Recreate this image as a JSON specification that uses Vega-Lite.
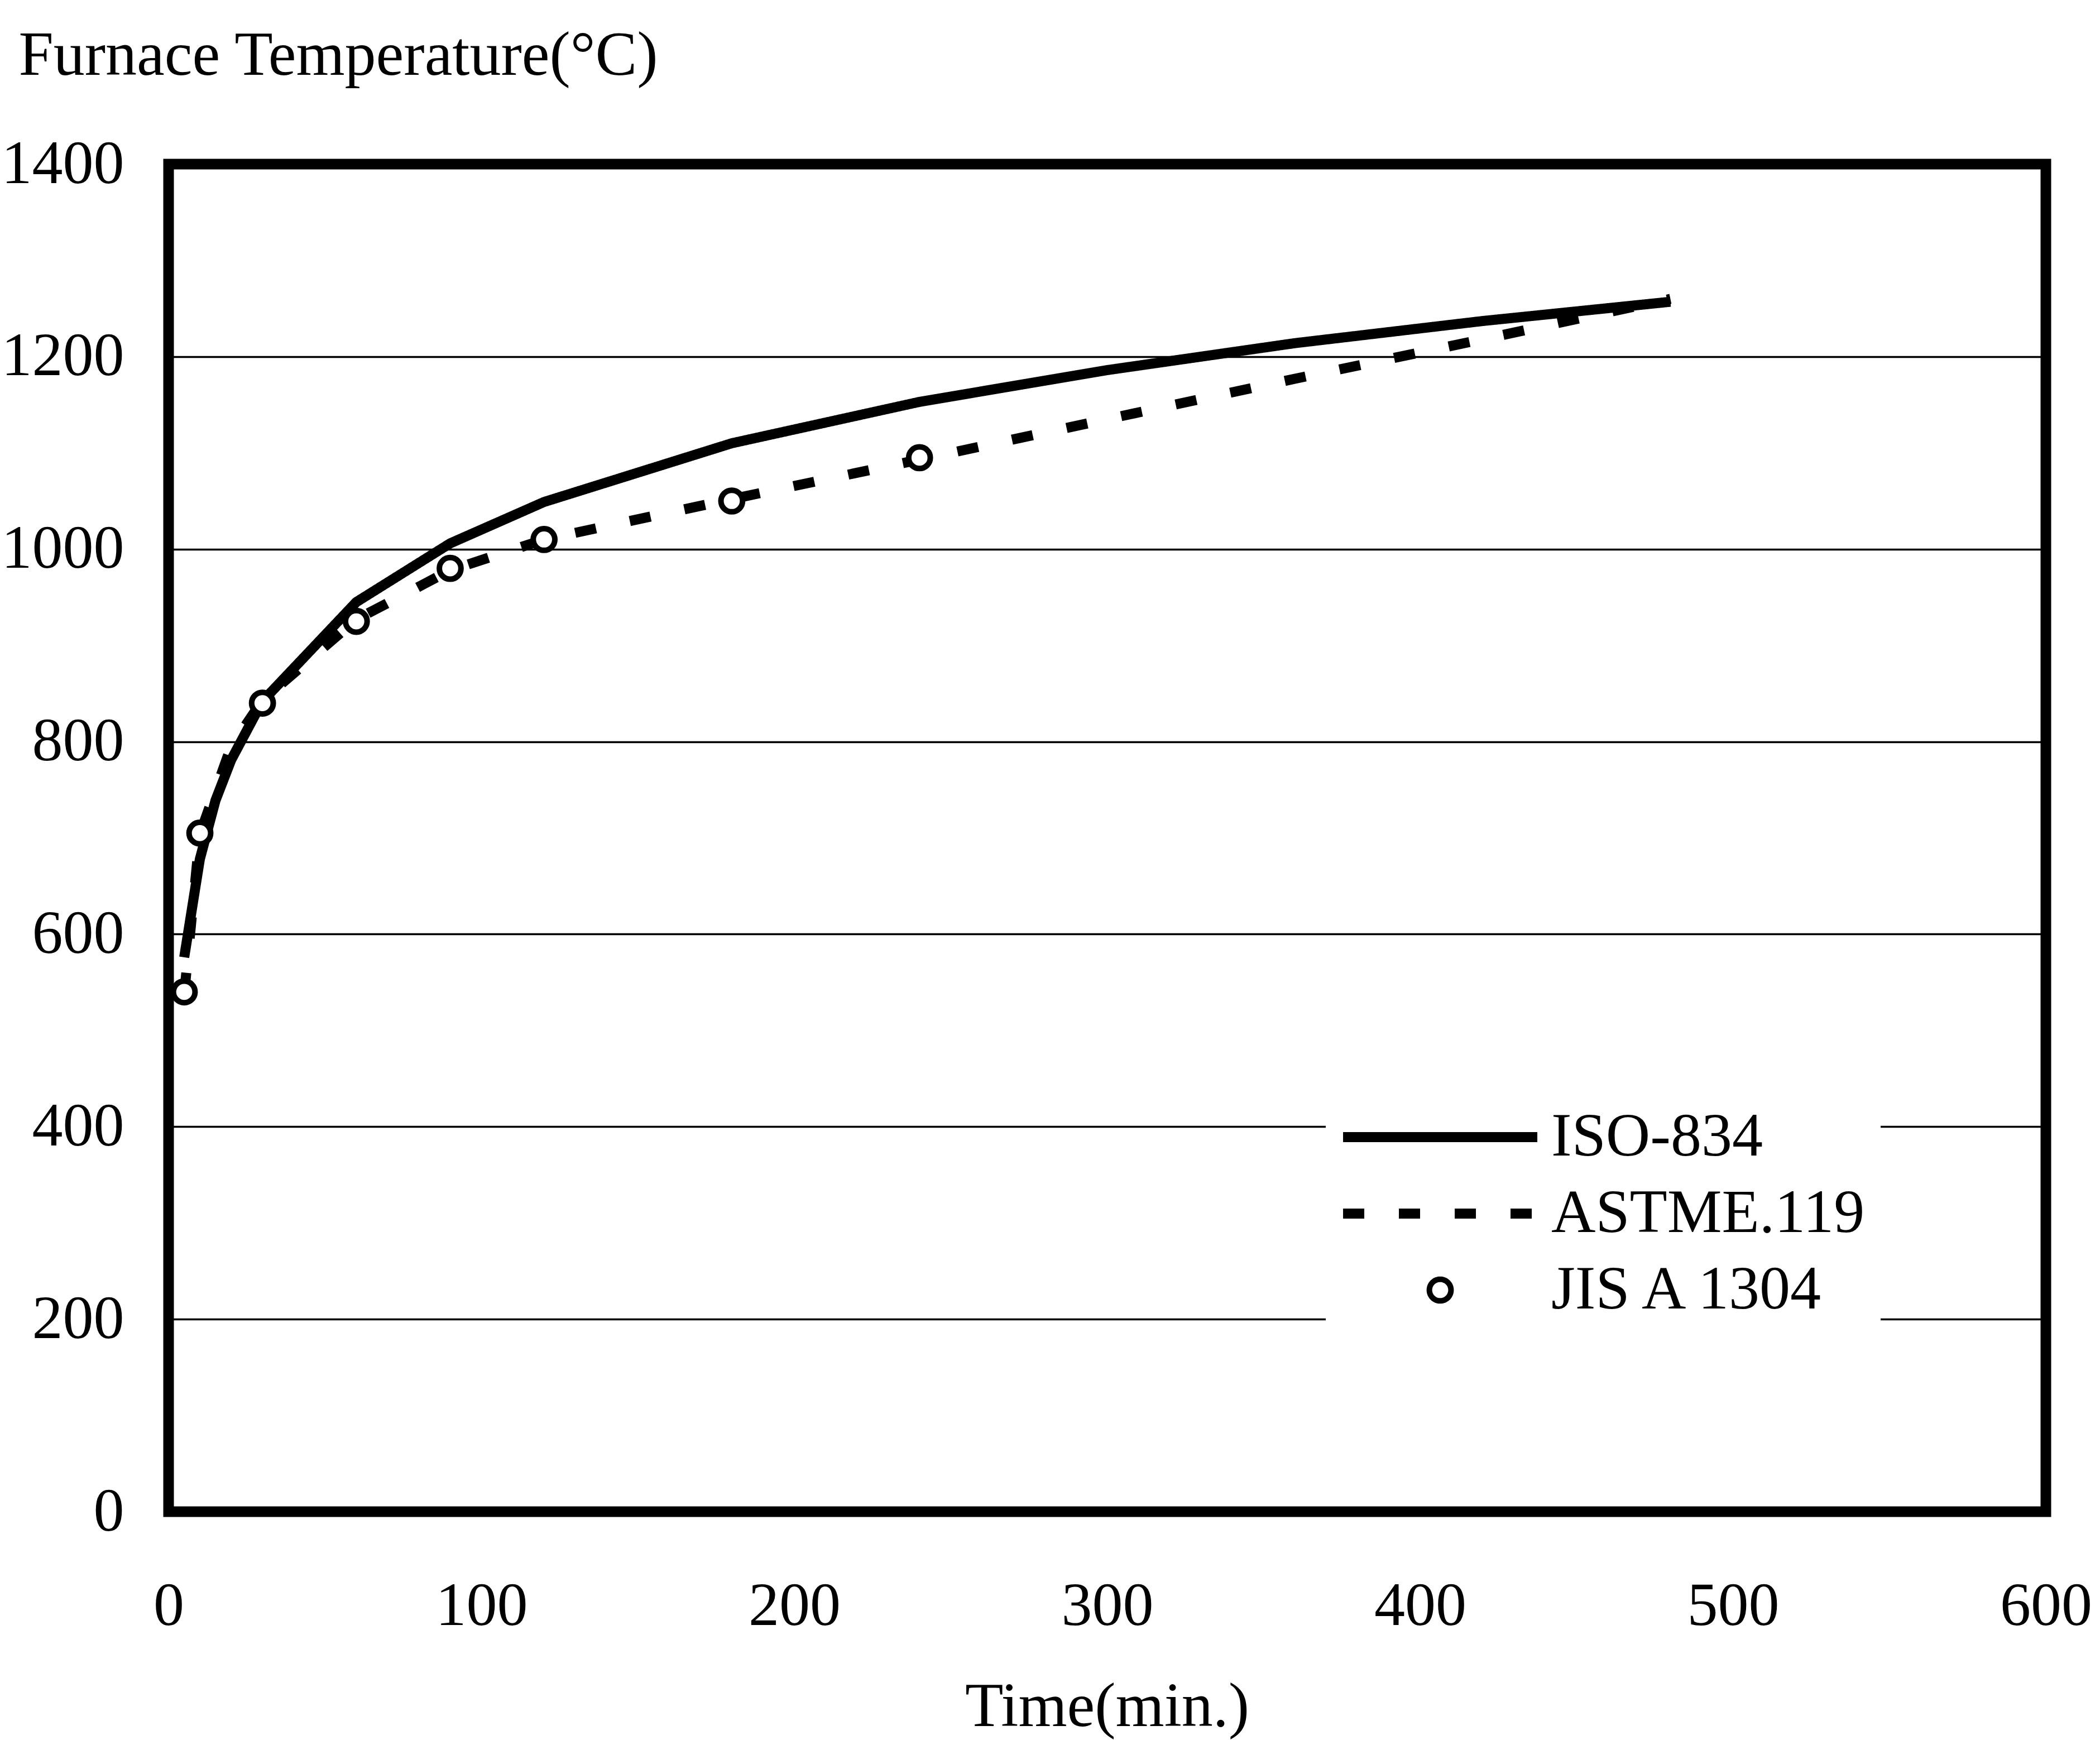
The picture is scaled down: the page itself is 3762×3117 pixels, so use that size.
{
  "$schema": "https://vega.github.io/schema/vega-lite/v6.json",
  "width": 3363,
  "height": 2414,
  "autosize": {"type": "none"},
  "padding": {"left": 302, "top": 294, "right": 97, "bottom": 409},
  "background": "white",
  "datasets": {
    "curves": [
      {"series": "ISO-834", "time": 5, "temp": 576},
      {"series": "ISO-834", "time": 10, "temp": 678},
      {"series": "ISO-834", "time": 15, "temp": 739},
      {"series": "ISO-834", "time": 20, "temp": 781},
      {"series": "ISO-834", "time": 30, "temp": 842},
      {"series": "ISO-834", "time": 60, "temp": 945},
      {"series": "ISO-834", "time": 90, "temp": 1006},
      {"series": "ISO-834", "time": 120, "temp": 1049},
      {"series": "ISO-834", "time": 180, "temp": 1110},
      {"series": "ISO-834", "time": 240, "temp": 1153},
      {"series": "ISO-834", "time": 300, "temp": 1186},
      {"series": "ISO-834", "time": 360, "temp": 1214},
      {"series": "ISO-834", "time": 420, "temp": 1237},
      {"series": "ISO-834", "time": 480, "temp": 1257},
      {"series": "ASTME.119", "time": 5, "temp": 538},
      {"series": "ASTME.119", "time": 10, "temp": 704},
      {"series": "ASTME.119", "time": 20, "temp": 795},
      {"series": "ASTME.119", "time": 30, "temp": 843},
      {"series": "ASTME.119", "time": 60, "temp": 927},
      {"series": "ASTME.119", "time": 90, "temp": 978},
      {"series": "ASTME.119", "time": 120, "temp": 1010},
      {"series": "ASTME.119", "time": 180, "temp": 1052},
      {"series": "ASTME.119", "time": 240, "temp": 1093},
      {"series": "ASTME.119", "time": 300, "temp": 1135},
      {"series": "ASTME.119", "time": 360, "temp": 1177},
      {"series": "ASTME.119", "time": 420, "temp": 1218},
      {"series": "ASTME.119", "time": 480, "temp": 1260}
    ],
    "jis": [
      {"series": "JIS A 1304", "time": 5, "temp": 540},
      {"series": "JIS A 1304", "time": 10, "temp": 705},
      {"series": "JIS A 1304", "time": 30, "temp": 840},
      {"series": "JIS A 1304", "time": 60, "temp": 925},
      {"series": "JIS A 1304", "time": 90, "temp": 980},
      {"series": "JIS A 1304", "time": 120, "temp": 1010},
      {"series": "JIS A 1304", "time": 180, "temp": 1050},
      {"series": "JIS A 1304", "time": 240, "temp": 1095}
    ]
  },
  "encoding": {
    "x": {
      "field": "time", "type": "quantitative",
      "scale": {"domain": [0, 600], "nice": false, "zero": false},
      "axis": {
        "values": [0, 100, 200, 300, 400, 500, 600],
        "format": "d",
        "grid": false,
        "labelPadding": 115,
        "labelFlush": false,
        "labelOverlap": false,
        "labelLimit": 1000,
        "title": "Time(min.)",
        "titleX": 1681,
        "titleY": 383,
        "titleAlign": "center",
        "titleBaseline": "alphabetic"
      }
    },
    "y": {
      "field": "temp", "type": "quantitative",
      "scale": {"domain": [0, 1400], "nice": false},
      "axis": {
        "values": [0, 200, 400, 600, 800, 1000, 1200, 1400],
        "format": "d",
        "grid": true,
        "labelPadding": 80,
        "labelFlush": false,
        "labelOverlap": false,
        "labelLimit": 1000,
        "title": "Furnace Temperature(°C)",
        "titleAngle": 0,
        "titleAlign": "left",
        "titleBaseline": "alphabetic",
        "titleX": -269,
        "titleY": -161,
        "titleLimit": 3000
      }
    }
  },
  "layer": [
    {
      "data": {"name": "curves"},
      "mark": {"type": "line", "color": "black", "strokeWidth": 18, "strokeCap": "butt", "strokeJoin": "round"},
      "encoding": {
        "strokeDash": {
          "field": "series", "type": "nominal",
          "scale": {"domain": ["ISO-834", "ASTME.119", "JIS A 1304"], "range": [[1, 0], [38, 62], [1, 0]]},
          "legend": {
            "title": null,
            "orient": "none",
            "legendX": 2073,
            "legendY": 1661,
            "fillColor": "white",
            "strokeColor": "white",
            "padding": 27,
            "symbolType": "stroke",
            "symbolSize": 121104,
            "symbolStrokeWidth": 18,
            "symbolStrokeColor": "black",
            "symbolFillColor": "white",
            "symbolOpacity": 1,
            "symbolOffset": 123,
            "labelFont": "Liberation Serif",
            "labelFontSize": 110,
            "labelColor": "black",
            "labelOffset": 144,
            "labelLimit": 2000,
            "rowPadding": 27,
            "encode": {
              "symbols": {
                "update": {
                  "shape": {"signal": "datum.value === 'JIS A 1304' ? 'circle' : 'stroke'"},
                  "size": {"signal": "datum.value === 'JIS A 1304' ? 1500 : 121104"},
                  "strokeWidth": {"signal": "datum.value === 'JIS A 1304' ? 10 : 18"}
                }
              }
            }
          }
        }
      }
    },
    {
      "data": {"name": "jis"},
      "mark": {"type": "point", "shape": "circle", "size": 1500, "fill": "white", "fillOpacity": 1, "stroke": "black", "strokeWidth": 10, "opacity": 1}
    }
  ],
  "config": {
    "view": {"stroke": "black", "strokeWidth": 19, "fill": "white"},
    "axis": {
      "domain": false,
      "ticks": false,
      "labelFont": "Liberation Serif",
      "labelFontSize": 110,
      "labelColor": "black",
      "titleFont": "Liberation Serif",
      "titleFontSize": 112,
      "titleFontWeight": "normal",
      "titleColor": "black",
      "gridColor": "black",
      "gridWidth": 3.5,
      "gridOpacity": 1
    }
  }
}
